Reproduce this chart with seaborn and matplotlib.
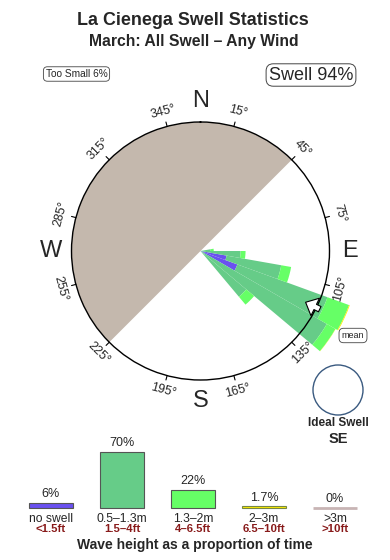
import numpy as np
import pandas as pd
import matplotlib
matplotlib.use("Agg")
import matplotlib.pyplot as plt
from matplotlib.patches import Ellipse
import seaborn as sns

# ---------------- data ----------------
title = "La Cienega Swell Statistics"
subtitle = "March: All Swell – Any Wind"
too_small_label = "Too Small 6%"
swell_label = "Swell 94%"

# rose: direction bins (deg, centre) and % of time per wave-height class
rose_dirs = [85, 95, 105, 115, 125, 135]
rose_noswell = [0.0, 0.0, 1.0, 2.2, 0.0, 0.0]
rose_small = [0.15, 2.3, 8.6, 23.9, 30.4, 5.1]
rose_mid = [0.1, 0.6, 2.5, 9.6, 4.3, 1.9]
rose_big = [0.0, 0.0, 0.0, 0.35, 0.1, 0.0]
rose_huge = [0.0, 0.0, 0.0, 0.0, 0.0, 0.0]
mean_dir = 116
land_from, land_to = 225, 405  # shore blocks bearings 225 -> 45 via north

deg_ticks = [15, 45, 75, 105, 135, 165, 195, 225, 255, 285, 315, 345]
compass = ["N", "E", "S", "W"]
compass_deg = [0, 90, 180, 270]

# bar chart
bar_cats = ["no swell", "0.5–1.3m", "1.3–2m", "2–3m", ">3m"]
bar_ft = ["<1.5ft", "1.5–4ft", "4–6.5ft", "6.5–10ft", ">10ft"]
bar_vals = [6, 70, 22, 1.7, 0]
bar_text = ["6%", "70%", "22%", "1.7%", "0%"]
bar_colors = ["#6a50f0", "#66cc88", "#66ff66", "#ffee00", "#c8b4b4"]
ideal_label = "Ideal Swell"
ideal_dir = "SE"

# ---------------- style ----------------
sns.set_theme(style="white")
plt.rcParams["font.family"] = ["Liberation Sans", "DejaVu Sans"]

W, H = 390, 560
fig = plt.figure(figsize=(W / 100, H / 100), dpi=100)
fig.patch.set_facecolor("white")

def fx(px):
    return px / W

def fy(py):
    return 1 - py / H

# ---------------- rose ----------------
cx, cy, rad = 200.5, 251, 129
RLIM = 4.876
ax = fig.add_axes([fx(cx - rad), fy(cy + rad), 2 * rad / W, 2 * rad / H], projection="polar")
ax.set_theta_zero_location("N")
ax.set_theta_direction(-1)
ax.set_ylim(0, RLIM)
ax.set_xticks([])
ax.set_yticks([])
ax.grid(False)
ax.set_facecolor("white")
ax.spines["polar"].set_color("black")
ax.spines["polar"].set_linewidth(1.0)
ax.spines["polar"].set_zorder(5)

# land
ax.bar(np.deg2rad((land_from + land_to) / 2), RLIM, width=np.deg2rad(land_to - land_from),
       bottom=0, color="#c4b8ad", edgecolor="none", zorder=1)

# stacked rose petals, area-proportional radius
layers = [rose_noswell, rose_small, rose_mid, rose_big, rose_huge]
cum = np.zeros(len(rose_dirs))
theta = np.deg2rad(rose_dirs)
for vals, col in zip(layers, bar_colors):
    vals = np.array(vals)
    r0 = np.sqrt(cum)
    cum = cum + vals
    r1 = np.sqrt(cum)
    mask = vals > 0
    if mask.any():
        ax.bar(theta[mask], (r1 - r0)[mask], width=np.deg2rad(10), bottom=r0[mask],
               color=col, edgecolor="none", zorder=3, clip_on=False)

# degree ticks + labels
for d in deg_ticks:
    t = np.deg2rad(d)
    ax.plot([t, t], [RLIM, RLIM * 1.035], color="black", lw=0.8, clip_on=False, zorder=6)
    rot = -d if (d < 90 or d > 270) else 180 - d
    ax.text(t, RLIM * 1.12, f"{d}°", rotation=rot, rotation_mode="anchor",
            ha="center", va="center", fontsize=9, clip_on=False)

for lab, d in zip(compass, compass_deg):
    ax.text(np.deg2rad(d), RLIM * 1.16, lab, ha="center", va="center", fontsize=17, clip_on=False)

# mean direction arrow (pointing toward the centre)
ax.annotate("", xy=(np.deg2rad(mean_dir), RLIM * 0.885), xytext=(np.deg2rad(mean_dir), RLIM * 1.05),
            arrowprops=dict(arrowstyle="simple,head_length=0.55,head_width=1.0,tail_width=0.3",
                            fc="white", ec="black", lw=0.8, mutation_scale=14),
            annotation_clip=False, zorder=7)

fig.text(fx(353), fy(335.5), "mean", ha="center", va="center", fontsize=6.5,
         bbox=dict(boxstyle="round,pad=0.3,rounding_size=0.5", fc="white", ec="#444444", lw=0.6))

# ideal swell circle
fig.patches.append(Ellipse((fx(338), fy(390)), 50 / W, 50 / H, transform=fig.transFigure,
                           fc="white", ec="#3a5a80", lw=1.0))
fig.text(fx(338), fy(423.5), ideal_label, ha="center", va="center", fontsize=8.5, fontweight="bold")
fig.text(fx(338), fy(439), ideal_dir, ha="center", va="center", fontsize=10.5, fontweight="bold")

# ---------------- titles ----------------
fig.text(fx(193), fy(20.5), title, ha="center", va="center", fontsize=12.9, fontweight="bold")
fig.text(fx(194), fy(41.5), subtitle, ha="center", va="center", fontsize=11.3, fontweight="bold")
fig.text(fx(76.5), fy(74), too_small_label, ha="center", va="center", fontsize=7.3,
         bbox=dict(boxstyle="round,pad=0.22,rounding_size=0.4", fc="white", ec="#444444", lw=0.6))
fig.text(fx(311), fy(75), swell_label, ha="center", va="center", fontsize=13,
         bbox=dict(boxstyle="round,pad=0.15,rounding_size=0.4", fc="white", ec="#444444", lw=0.7))

# ---------------- bar chart ----------------
bax = fig.add_axes([fx(15.5), fy(507.7), 355 / W, 56 / H])
df = pd.DataFrame({"cat": bar_cats, "val": bar_vals})
sns.barplot(data=df, x="cat", y="val", hue="cat", palette=bar_colors, legend=False,
            ax=bax, width=0.63, edgecolor="#555555", linewidth=0.8, saturation=1)
bax.set_ylim(0, 70)
bax.set_xlim(-0.5, 4.5)
bax.axis("off")
for p in bax.patches:
    p.set_clip_on(False)
# the empty class still shows as a thin line in its own colour
bax.patches[-1].set_edgecolor(bar_colors[-1])
bax.patches[-1].set_linewidth(2)
bax.patches[-2].set_edgecolor("#778844")
for i, (v, t) in enumerate(zip(bar_vals, bar_text)):
    bax.annotate(t, (i, v), xytext=(0, 6.3), textcoords="offset points",
                 ha="center", va="center", fontsize=9, annotation_clip=False)

for i, (c, f) in enumerate(zip(bar_cats, bar_ft)):
    x = fx(15.5 + 71 * (i + 0.5))
    fig.text(x, fy(518.5), c, ha="center", va="center", fontsize=8.7)
    fig.text(x, fy(529.5), f, ha="center", va="center", fontsize=8.2, fontweight="bold", color="#881a1a")

fig.text(fx(194.5), fy(545.5), "Wave height as a proportion of time", ha="center", va="center",
         fontsize=10, fontweight="bold")

fig.savefig("out.png", dpi=100, facecolor="white")
